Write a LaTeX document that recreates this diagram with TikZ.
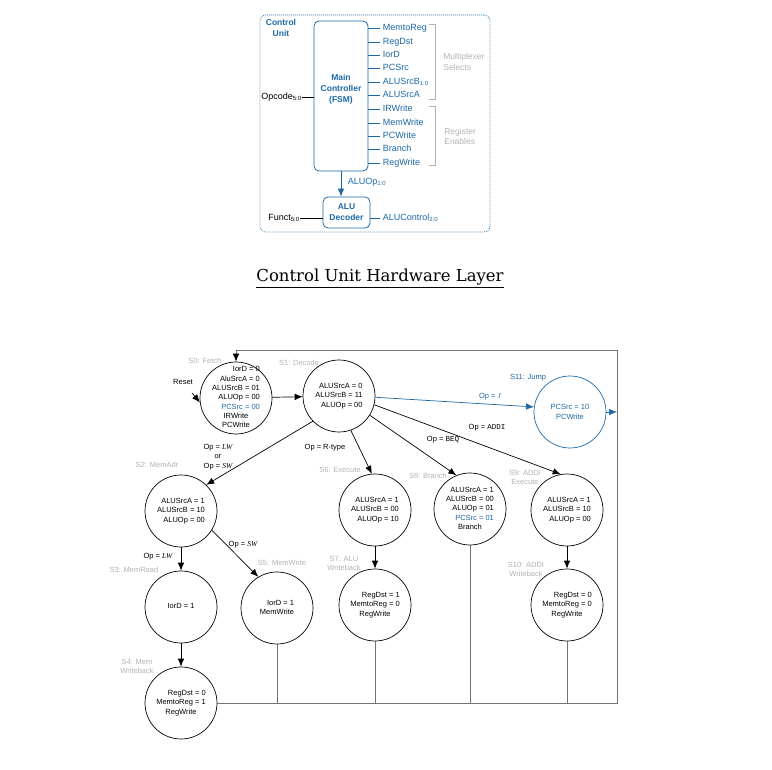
\documentclass[tikz,border=0pt]{standalone}
\usepackage{fontspec}
\setmainfont{Liberation Sans}
\newfontfamily\titlefont{DejaVu Serif}
\newfontfamily\opfont{Liberation Serif}
\newfontfamily\codefont{Liberation Mono}
\usepackage{xcolor}
\usetikzlibrary{arrows.meta}

\definecolor{cublue}{RGB}{28,104,164}
\definecolor{lgray}{RGB}{178,178,178}
\definecolor{dgray}{RGB}{115,115,115}

% state text: right aligned block, \ctr for a centred line
\newcommand{\stxt}[1]{\begin{tabular}{@{}r@{}}#1\end{tabular}}
\newcommand{\ctr}[1]{\multicolumn{1}{@{}c@{}}{#1}}

\begin{document}
\begin{tikzpicture}[
            x = 1pt, y = -1pt, % pixel grid, y runs down
            > = {Latex[length=8pt, width=6.5pt]}, % arrow head style
            line width = 0.7pt,
            state/.style = {circle, draw=black, minimum size=72pt, inner sep=0pt},
            stext/.style = {font=\fontsize{7.5}{9.3}\selectfont, inner sep=0pt},
            sname/.style = {text=lgray, font=\fontsize{7.5}{9}\selectfont, align=center, inner sep=0pt},
            elbl/.style = {font=\fontsize{7.5}{9.3}\selectfont, align=center, inner sep=0pt},
            cubox/.style = {draw=cublue, rounded corners=5pt, line width=0.8pt},
            cubold/.style = {text=cublue, font=\bfseries\fontsize{8.5}{11}\selectfont, align=center},
            sig/.style = {text=cublue, font=\fontsize{9}{11}\selectfont, anchor=west,
                          inner xsep=2.5pt, inner ysep=0pt, text height=6.5pt, text depth=2pt},
            wire/.style = {draw=cublue, line width=0.8pt},
            grp/.style = {text=lgray, font=\fontsize{8.5}{10.5}\selectfont, align=left, anchor=west, inner sep=0pt},
            brk/.style = {draw=lgray, line width=0.8pt},
            loopline/.style = {draw=dgray}
        ]
\useasboundingbox (0,0) rectangle (772,770);

% control unit
\node[draw=cublue, dash pattern=on 0.8pt off 1.2pt, rounded corners=6pt, line width=0.7pt,
      minimum width=230pt, minimum height=217pt] (cu) at (375,123.5) {};
\node[cubold] (cul) at (281,28) {Control\\Unit};
\node[cubox, minimum width=54pt, minimum height=150pt,
      label={[cubold, yshift=7pt]center:Main\\Controller\\(FSM)}] (main) at (341,96) {};
\node[cubox, cubold, minimum width=47pt, minimum height=31pt] (dec) at (346.5,212.5) {ALU\\Decoder};

\foreach \sig/\yy [count=\i] in {MemtoReg/28, RegDst/42, IorD/55, PCSrc/68,
    {ALUSrcB\textsubscript{1:0}}/82, ALUSrcA/95, IRWrite/109, MemWrite/123,
    PCWrite/136, Branch/149, RegWrite/163}
{
  \node[sig] (o\i) at (380,\yy) {\sig};
  \draw[wire] (main.east |- o\i.west) -- (o\i.west);
}

\draw[brk] (429,24) -| (435,99) -- (429,99);
\draw[brk] (429,106) -| (435,165) -- (429,165);
\node[grp] (mux) at (443,62) {Multiplexer\\Selects};
\node[grp] (regen) at (444,136.5) {Register\\Enables};

\node[font=\fontsize{9}{11}\selectfont, anchor=east, inner sep=0pt] (opc) at (302,97) {Opcode\textsubscript{5:0}};
\draw (opc.east) -- (opc.east -| main.west);
\node[font=\fontsize{9}{11}\selectfont, anchor=east, inner sep=0pt] (fun) at (300,218) {Funct\textsubscript{5:0}};
\draw (fun.east) -- (fun.east -| dec.west);
\node[sig] (aluc) at (380,218) {ALUControl\textsubscript{2:0}};
\draw[wire] (dec.east |- aluc.west) -- (aluc.west);
\draw[wire, ->, cublue] (main.south) -- (main.south |- dec.north);
\node[sig] (aluop) at (345,182) {ALUOp\textsubscript{1:0}};

\node[font=\titlefont\fontsize{16.5}{20}\selectfont, anchor=base] (title) at (380,282)
  {\underline{Control Unit Hardware Layer}};

% state machine
\node[state, label={[stext]center:\stxt{IorD = 0\\AluSrcA = 0\\ALUSrcB = 01\\ALUOp = 00\\\textcolor{cublue}{PCSrc = 00}\\\ctr{IRWrite}\\\ctr{PCWrite}}}] (s0) at (236,398) {};
\node[state, label={[stext]center:\stxt{ALUSrcA = 0\\ALUSrcB = 11\\ALUOp = 00}}] (s1) at (339,396) {};
\node[state, draw=cublue, label={[stext, text=cublue, align=center]center:{PCSrc = 10\\PCWrite}}] (s11) at (570,412) {};
\node[state, label={[stext]center:\stxt{ALUSrcA = 1\\ALUSrcB = 10\\ALUOp = 00}}] (s2) at (181,511) {};
\node[state, label={[stext]center:\stxt{ALUSrcA = 1\\ALUSrcB = 00\\ALUOp = 10}}] (s6) at (375,510) {};
\node[state, label={[stext]center:\stxt{ALUSrcA = 1\\ALUSrcB = 00\\ALUOp = 01\\\textcolor{cublue}{PCSrc = 01}\\\ctr{Branch}}}] (s8) at (470,509) {};
\node[state, label={[stext]center:\stxt{ALUSrcA = 1\\ALUSrcB = 10\\ALUOp = 00}}] (s9) at (567,510) {};
\node[state, label={[stext]center:\stxt{IorD = 1}}] (s3) at (181,607) {};
\node[state, label={[stext]center:\stxt{IorD = 1\\\ctr{MemWrite}}}] (s5) at (277,608) {};
\node[state, label={[stext]center:\stxt{RegDst = 1\\MemtoReg = 0\\\ctr{RegWrite}}}] (s7) at (375,605) {};
\node[state, label={[stext]center:\stxt{RegDst = 0\\MemtoReg = 0\\\ctr{RegWrite}}}] (s10) at (567,605) {};
\node[state, label={[stext]center:\stxt{RegDst = 0\\MemtoReg = 1\\\ctr{RegWrite}}}] (s4) at (181,703) {};

\node[sname] (n0) at (205,361) {S0: Fetch};
\node[sname] (n1) at (299,363) {S1: Decode};
\node[sname, text=cublue] (n11) at (528,378) {S11: Jump};
\node[sname] (n2) at (157,465) {S2: MemAdr};
\node[sname] (n6) at (340,470) {S6: Execute};
\node[sname] (n8) at (428,476) {S8: Branch};
\node[sname] (n9) at (525,477) {S9: ADDI\\Execute};
\node[sname] (n3) at (134,570) {S3: MemRead};
\node[sname] (n5) at (282,563) {S5: MemWrite};
\node[sname] (n7) at (344,563) {S7: ALU\\Writeback};
\node[sname] (n10) at (526,569) {S10: ADDI\\Writeback};
\node[sname] (n4) at (137,666) {S4: Mem\\Writeback};

\node[elbl] (reset) at (183,382) {Reset};
\coordinate (rs) at (192,393);
\node[elbl, text=cublue] (lj) at (490,397) {Op = {\opfont\itshape J}};
\node[elbl] (llwsw) at (218,457) {Op = {\opfont\itshape LW}\\or\\Op = {\opfont\itshape SW}};
\node[elbl] (lrt) at (325,448) {Op = R-type};
\node[elbl] (lbeq) at (443,440) {Op = {\codefont BEQ}};
\node[elbl] (laddi) at (487,428) {Op = {\codefont ADDI}};
\node[elbl] (llw) at (158,557) {Op = {\opfont\itshape LW}};
\node[elbl] (lsw) at (243,545) {Op = {\opfont\itshape SW}};

 \path [->] (rs) edge (s0.187);
 \path [->] (s0) edge (s1);
 \path [->] (s1.-2) edge[cublue] (s11.172);
 \path [->] (s1.224) edge (s2.46);
 \path [->] (s1.289) edge (s6.95);
 \path [->] (s1.-32) edge (s8.112);
 \path [->] (s1.-14) edge (s9.100);
 \path [->] (s2) edge (s3);
 \path [->] (s2.-32) edge (s5.121);
 \path [->] (s3) edge (s4);
 \path [->] (s6) edge (s7);
 \path [->] (s9) edge (s10);

% back to fetch
\coordinate (br) at (617,703);
\coordinate (tr) at (617,350);
\draw[loopline, -{Latex[length=8pt, width=6.5pt, color=black]}] (s4.east) -- (br) -- (tr) -| (s0.north);
\foreach \s in {s5,s7,s8,s10}
  \draw[loopline] (\s.south) -- (\s.south |- br);
\draw[->, cublue] (s11.east) -- (s11.east -| br);
\end{tikzpicture}
\end{document}
